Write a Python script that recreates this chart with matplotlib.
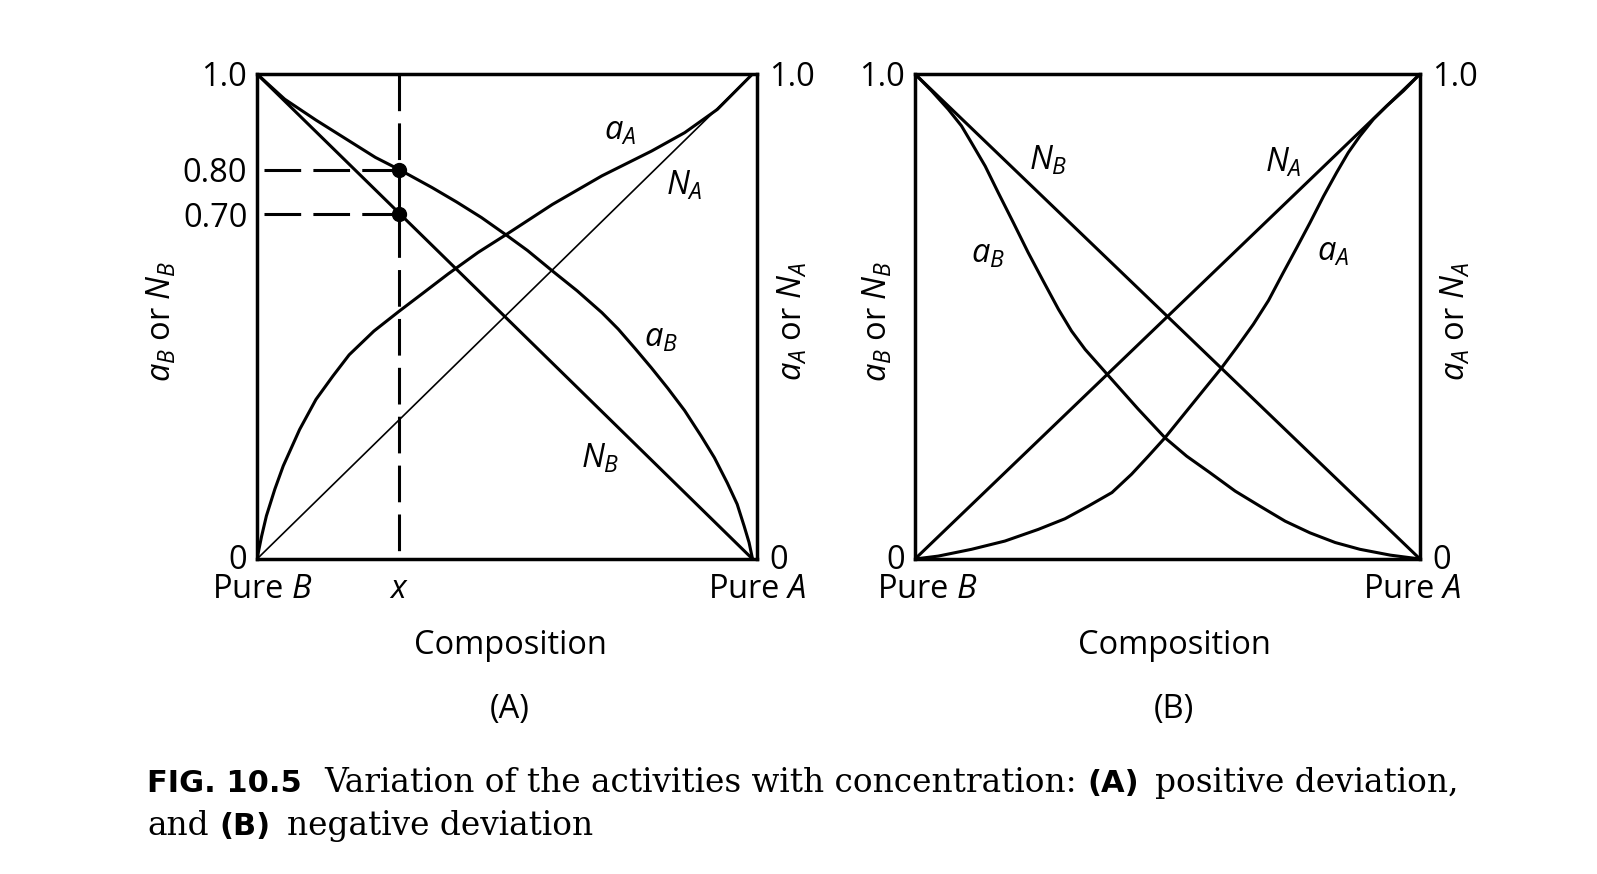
import matplotlib
matplotlib.use("Agg")
from matplotlib import pyplot as plt

plt.rcParams['font.family'] = ['Open Sans', 'DejaVu Sans']
plt.rcParams['mathtext.fontset'] = 'custom'
plt.rcParams['mathtext.it'] = 'Open Sans:italic'
plt.rcParams['mathtext.rm'] = 'Open Sans'

# panel A: positive deviation (x = fraction of A, from pure B to pure A)
a_x_ab = [0.0, 0.056, 0.119, 0.186, 0.239, 0.287, 0.353, 0.403, 0.453, 0.503, 0.546,
          0.596, 0.646, 0.696, 0.729, 0.763, 0.796, 0.829, 0.863, 0.896, 0.923,
          0.949, 0.969, 0.983, 0.993, 1.0]
a_y_ab = [1.0, 0.948, 0.905, 0.862, 0.828, 0.803, 0.766, 0.736, 0.704, 0.668, 0.636,
          0.594, 0.553, 0.508, 0.474, 0.434, 0.394, 0.352, 0.306, 0.254, 0.209,
          0.157, 0.113, 0.068, 0.034, 0.0]
a_x_aa = [0.0, 0.0093, 0.019, 0.036, 0.053, 0.086, 0.119, 0.153, 0.186, 0.236, 0.287,
          0.336, 0.386, 0.446, 0.503, 0.596, 0.696, 0.796, 0.863, 0.929, 1.0]
a_y_aa = [0.0, 0.047, 0.089, 0.144, 0.192, 0.267, 0.329, 0.377, 0.421, 0.470, 0.511,
          0.549, 0.588, 0.632, 0.669, 0.731, 0.790, 0.841, 0.879, 0.927, 1.0]
x_mark = 0.287
dot_vals = [0.803, 0.711]
dot_labels = ['0.80', '0.70']

# panel B: negative deviation
b_x_ab = [0.0, 0.033, 0.066, 0.092, 0.112, 0.139, 0.165, 0.195, 0.224, 0.254, 0.284,
          0.310, 0.337, 0.383, 0.442, 0.495, 0.538, 0.584, 0.634, 0.683, 0.733,
          0.782, 0.832, 0.881, 0.941, 1.0]
b_y_ab = [1.0, 0.965, 0.927, 0.893, 0.858, 0.810, 0.755, 0.693, 0.632, 0.573, 0.515,
          0.470, 0.432, 0.378, 0.309, 0.250, 0.212, 0.178, 0.140, 0.109, 0.078,
          0.054, 0.034, 0.020, 0.008, 0.0]
b_x_aa = [0.0, 0.046, 0.112, 0.178, 0.244, 0.297, 0.343, 0.390, 0.429, 0.462, 0.495,
          0.551, 0.607, 0.637, 0.670, 0.700, 0.729, 0.756, 0.782, 0.809, 0.835,
          0.858, 0.881, 0.908, 0.934, 0.967, 1.0]
b_y_aa = [0.0, 0.006, 0.020, 0.037, 0.061, 0.083, 0.109, 0.137, 0.175, 0.212, 0.250,
          0.322, 0.394, 0.436, 0.484, 0.533, 0.590, 0.642, 0.693, 0.748, 0.797,
          0.838, 0.872, 0.907, 0.934, 0.965, 1.0]

W, H = 1597, 874
FS = 23.5
LW = 2.2
DASH = (12, 4)
fig = plt.figure(figsize=(W / 100, H / 100), dpi=100)


def setup(ax, left_coord, right_coord, xticks, xlabels, yticks, ylabels, name, cx):
    ax.set_xlim(0, 1)
    ax.set_ylim(0, 1)
    for s in ax.spines.values():
        s.set_linewidth(2.5)
    ax.set_xticks(xticks)
    ax.set_xticklabels(xlabels, fontsize=FS)
    ax.set_yticks(yticks)
    ax.set_yticklabels(ylabels, fontsize=FS)
    ax.tick_params(axis='x', length=0, pad=10)
    ax.tick_params(axis='y', length=0, pad=7)
    twin = ax.twinx()
    twin.set_ylim(0, 1)
    twin.set_yticks([yticks[0], 1])
    twin.set_yticklabels(['0', '1.0'], fontsize=FS)
    twin.tick_params(length=0, pad=9)
    for s in twin.spines.values():
        s.set_visible(False)
    ax.text(left_coord, 0.49, '$a_B$ or $N_B$', transform=ax.transAxes, fontsize=FS,
            rotation=90, ha='center', va='center')
    ax.text(right_coord, 0.49, '$a_A$ or $N_A$', transform=ax.transAxes, fontsize=FS,
            rotation=90, ha='center', va='center')
    ax.text(cx, -0.179, 'Composition', transform=ax.transAxes, fontsize=FS,
            ha='center', va='center')
    ax.text(cx, -0.310, name, transform=ax.transAxes, fontsize=FS,
            ha='center', va='center')


axA = fig.add_axes([257 / W, 1 - 559 / H, 500 / W, 485 / H])
setup(axA, -0.191, 1.071, [0.012, x_mark, 1.009], ['Pure $B$', '$x$', 'Pure $A$'],
      [0.006] + dot_vals + [1], ['0'] + dot_labels + ['1.0'], '(A)', 0.506)
axA.plot([0, 1], [0, 1], color='black', lw=1.2)
axA.plot([0, 1], [1, 0], color='black', lw=LW)
axA.plot(a_x_ab, a_y_ab, color='black', lw=LW, solid_joinstyle='round')
axA.plot(a_x_aa, a_y_aa, color='black', lw=LW, solid_joinstyle='round')
axA.plot([x_mark, x_mark], [1, 0], color='black', lw=LW, dashes=DASH)
for v in dot_vals:
    axA.plot([0.014, x_mark], [v, v], color='black', lw=LW, dashes=DASH)
axA.plot([x_mark] * len(dot_vals), dot_vals, 'o', color='black', ms=10)
axA.text(0.733, 0.882, '$a_A$', fontsize=FS, ha='center', va='center')
axA.text(0.863, 0.769, '$N_A$', fontsize=FS, ha='center', va='center')
axA.text(0.816, 0.456, '$a_B$', fontsize=FS, ha='center', va='center')
axA.text(0.693, 0.206, '$N_B$', fontsize=FS, ha='center', va='center')

axB = fig.add_axes([915 / W, 1 - 559 / H, 505 / W, 485 / H])
setup(axB, -0.073, 1.071, [0.025, 0.984], ['Pure $B$', 'Pure $A$'],
      [0.006, 1], ['0', '1.0'], '(B)', 0.513)
axB.plot([0, 1], [0, 1], color='black', lw=LW)
axB.plot([0, 1], [1, 0], color='black', lw=LW)
axB.plot(b_x_ab, b_y_ab, color='black', lw=LW, solid_joinstyle='round')
axB.plot(b_x_aa, b_y_aa, color='black', lw=LW, solid_joinstyle='round')
axB.text(0.264, 0.821, '$N_B$', fontsize=FS, ha='center', va='center')
axB.text(0.729, 0.817, '$N_A$', fontsize=FS, ha='center', va='center')
axB.text(0.145, 0.628, '$a_B$', fontsize=FS, ha='center', va='center')
axB.text(0.828, 0.632, '$a_A$', fontsize=FS, ha='center', va='center')

# caption, written piece by piece in mixed fonts
renderer = fig.canvas.get_renderer()
bold = dict(family='DejaVu Sans', weight='bold', fontsize=22)
serif = dict(family='DejaVu Serif', fontsize=23.6)


def caption_line(pieces, x, y):
    for s, kw, gap in pieces:
        t = fig.text(x / W, 1 - y / H, s, va='baseline', ha='left', **kw)
        x += t.get_window_extent(renderer).width + gap


caption_line([('FIG. 10.5', bold, 22),
              ('Variation of the activities with concentration:', serif, 11),
              ('(A)', bold, 16), ('positive deviation,', serif, 0)], 147, 792)
caption_line([('and', serif, 11), ('(B)', bold, 16), ('negative deviation', serif, 0)],
             147, 835)

fig.savefig('out.png', dpi=100)
